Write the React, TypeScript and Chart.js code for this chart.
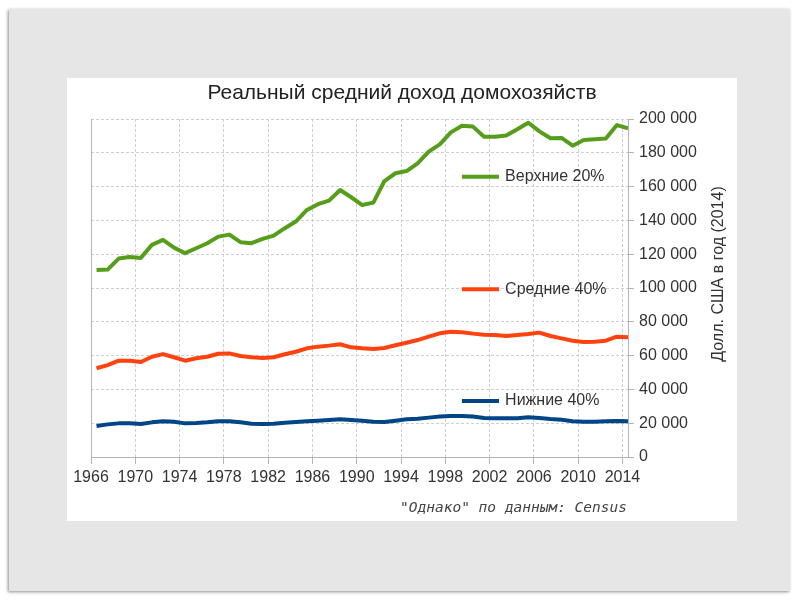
import React, { useEffect, useRef } from "react";
import { Chart, registerables } from "chart.js";

Chart.register(...registerables);

// ---- data ----
const TITLE = "Реальный средний доход домохозяйств";
const Y_TITLE = "Долл. США в год (2014)";
const SOURCE = "\"Однако\" по данным: Census";

const seriesLabels = ["Верхние 20%", "Средние 40%", "Нижние 40%"];
const seriesColors = ["#579d1c", "#ff420e", "#004586"];

const pointX = [
  1966.5, 1967.5, 1968.5, 1969.5, 1970.5, 1971.5, 1972.5, 1973.5, 1974.5, 1975.5,
  1976.5, 1977.5, 1978.5, 1979.5, 1980.5, 1981.5, 1982.5, 1983.5, 1984.5, 1985.5,
  1986.5, 1987.5, 1988.5, 1989.5, 1990.5, 1991.5, 1992.5, 1993.5, 1994.5, 1995.5,
  1996.5, 1997.5, 1998.5, 1999.5, 2000.5, 2001.5, 2002.5, 2003.5, 2004.5, 2005.5,
  2006.5, 2007.5, 2008.5, 2009.5, 2010.5, 2011.5, 2012.5, 2013.5, 2014.5,
];

const top20 = [
  110700, 110900, 117400, 118400, 117800, 125500, 128500, 123900, 120600, 123500,
  126500, 130400, 131600, 127100, 126500, 129100, 131000, 135400, 139300, 146200,
  149600, 151700, 158000, 153700, 149100, 150500, 163300, 167900, 169200, 173800,
  180700, 185000, 192100, 196000, 195500, 189500, 189500, 190300, 193900, 197800,
  192700, 188600, 188800, 184200, 187600, 188000, 188400, 196400, 194500,
];

const middle40 = [
  52500, 54400, 57000, 57000, 56200, 59300, 60900, 59000, 57000, 58400,
  59300, 61100, 61300, 59800, 59000, 58600, 59000, 60800, 62300, 64300,
  65300, 65900, 66700, 64900, 64300, 63900, 64500, 66100, 67600, 69200,
  71200, 73200, 74100, 73800, 73000, 72400, 72200, 71600, 72200, 72800,
  73600, 71600, 70200, 68800, 68000, 68200, 68800, 71200, 70800,
];

const bottom40 = [
  18300, 19300, 19900, 19900, 19500, 20500, 21100, 20900, 19900, 20100,
  20500, 21100, 21100, 20500, 19700, 19500, 19700, 20300, 20700, 21100,
  21500, 21900, 22300, 21900, 21500, 20900, 20700, 21500, 22300, 22700,
  23300, 23900, 24300, 24300, 23900, 23100, 22900, 22900, 22900, 23500,
  23100, 22500, 22100, 21100, 20900, 20900, 21100, 21300, 21100,
];

const xTickLabels = [1966, 1970, 1974, 1978, 1982, 1986, 1990, 1994, 1998, 2002, 2006, 2010, 2014];
const yTickValues = [0, 20000, 40000, 60000, 80000, 100000, 120000, 140000, 160000, 180000, 200000];

// inline legend anchors (data units)
const legendY = [165900, 99200, 33100];
const legendLineX = [1999.5, 2002.85];
const legendTextX = 2003.4;

const W = 670;
const H = 443;
const FONT = '"Liberation Sans", Arial, sans-serif';
const GRID = "#cfcfcf";
const AXIS = "#b3b3b3";
const TEXT = "#333333";

const fmtThousands = (v: number) => String(v).replace(/\B(?=(\d{3})+(?!\d))/g, " ");

const annotations = {
  id: "annotations",
  afterDraw(chart: any) {
    const { ctx, chartArea: a, scales } = chart;
    const x = scales.x;
    const y = scales.y;
    ctx.save();
    // left border
    ctx.strokeStyle = AXIS;
    ctx.lineWidth = 1;
    ctx.beginPath();
    ctx.moveTo(Math.round(a.left) + 0.5, a.top);
    ctx.lineTo(Math.round(a.left) + 0.5, a.bottom);
    ctx.stroke();

    // title
    ctx.fillStyle = "#222";
    ctx.font = `21px ${FONT}`;
    ctx.textAlign = "center";
    ctx.textBaseline = "middle";
    ctx.fillText(TITLE, chart.width / 2, 15);

    // inline legend
    chart.data.datasets.forEach((ds: any, i: number) => {
      const yy = y.getPixelForValue(legendY[i]);
      ctx.strokeStyle = ds.borderColor;
      ctx.lineWidth = 4;
      ctx.beginPath();
      ctx.moveTo(x.getPixelForValue(legendLineX[0]), yy);
      ctx.lineTo(x.getPixelForValue(legendLineX[1]), yy);
      ctx.stroke();
      ctx.fillStyle = TEXT;
      ctx.font = `16px ${FONT}`;
      ctx.textAlign = "left";
      ctx.textBaseline = "middle";
      ctx.fillText(ds.label, x.getPixelForValue(legendTextX), yy);
    });

    // y axis title (rotated)
    ctx.save();
    ctx.translate(a.right + 91, (a.top + a.bottom) / 2 - 14);
    ctx.rotate(-Math.PI / 2);
    ctx.fillStyle = TEXT;
    ctx.font = `16px ${FONT}`;
    ctx.textAlign = "center";
    ctx.textBaseline = "middle";
    ctx.fillText(Y_TITLE, 0, 0);
    ctx.restore();

    // source
    ctx.fillStyle = "#444";
    ctx.font = 'italic 14.5px "DejaVu Sans Mono", monospace';
    ctx.textAlign = "right";
    ctx.textBaseline = "middle";
    ctx.fillText(SOURCE, a.right - 1, a.bottom + 51);
    ctx.restore();
  },
};

export default function App() {
  const ref = useRef<HTMLCanvasElement>(null);

  useEffect(() => {
    const seriesValues = [top20, middle40, bottom40];
    const chart = new Chart(ref.current as HTMLCanvasElement, {
      type: "line",
      data: {
        datasets: seriesValues.map((vals, i) => ({
          label: seriesLabels[i],
          data: pointX.map((px, j) => ({ x: px, y: vals[j] })),
          borderColor: seriesColors[i],
          backgroundColor: seriesColors[i],
          borderWidth: 4,
          pointRadius: 0,
          tension: 0,
          borderJoinStyle: "round",
          fill: false,
        })),
      },
      options: {
        responsive: false,
        animation: false,
        devicePixelRatio: 1,
        layout: { padding: { left: 24, top: 41, right: 0, bottom: 0 } },
        plugins: {
          legend: { display: false },
          tooltip: { enabled: false },
          title: { display: false },
        },
        scales: {
          x: {
            type: "linear",
            min: 1966,
            max: 2014.5,
            afterBuildTicks: (s: any) => {
              s.ticks = xTickLabels.map((v) => ({ value: v }));
            },
            afterFit: (s: any) => {
              s.height = 64;
            },
            ticks: {
              autoSkip: false,
              maxRotation: 0,
              padding: 4,
              color: TEXT,
              font: { family: FONT, size: 16 },
              callback: (v: any) => String(v),
            },
            grid: {
              color: GRID,
              lineWidth: 1,
              tickLength: 7,
              tickColor: AXIS,
              tickBorderDash: [],
            },
            border: { display: true, color: AXIS, width: 1, dash: [3, 2] },
          },
          y: {
            type: "linear",
            position: "right",
            min: 0,
            max: 200000,
            afterBuildTicks: (s: any) => {
              s.ticks = yTickValues.map((v) => ({ value: v }));
            },
            afterFit: (s: any) => {
              s.width = 109;
            },
            ticks: {
              padding: 5,
              color: TEXT,
              font: { family: FONT, size: 16 },
              callback: (v: any) => fmtThousands(Number(v)),
            },
            grid: {
              color: GRID,
              lineWidth: 1,
              tickLength: 6,
              tickColor: AXIS,
              tickBorderDash: [],
            },
            border: { display: true, color: AXIS, width: 1, dash: [3, 2] },
          },
        },
      },
      plugins: [annotations],
    } as any);
    return () => chart.destroy();
  }, []);

  return (
    <div
      style={{
        position: "fixed",
        left: 0,
        top: 0,
        width: 800,
        height: 600,
        background: "#ffffff",
        overflow: "hidden",
      }}
    >
      <div
        style={{
          position: "absolute",
          left: 9,
          top: 9,
          width: 781,
          height: 582,
          background: "#e6e6e6",
          boxShadow: "-1px 1px 3px rgba(0,0,0,0.45)",
        }}
      />
      <div
        style={{
          position: "absolute",
          left: 67,
          top: 78,
          width: W,
          height: H,
          background: "#ffffff",
        }}
      >
        <canvas ref={ref} width={W} height={H} style={{ display: "block", width: W, height: H }} />
      </div>
    </div>
  );
}
